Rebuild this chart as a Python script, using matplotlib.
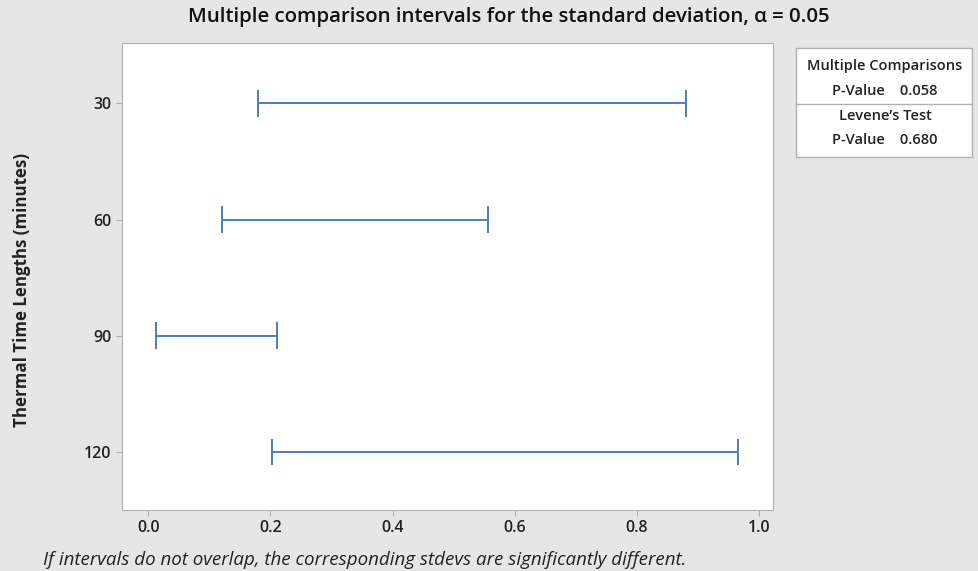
import matplotlib
matplotlib.use("Agg")
import matplotlib.pyplot as plt
from matplotlib.patches import Rectangle

groups = ["30", "60", "90", "120"]
lower = [0.180, 0.120, 0.013, 0.202]
upper = [0.880, 0.557, 0.211, 0.965]
xticks = [0.0, 0.2, 0.4, 0.6, 0.8, 1.0]
mc_pvalue = "0.058"
levene_pvalue = "0.680"

plt.rcParams['font.family'] = ['Open Sans', 'DejaVu Sans']
W, H = 979, 571
fig = plt.figure(figsize=(W/100, H/100), dpi=100, facecolor='#e6e6e6')
ax = fig.add_axes([122/W, 1-510/H, (773-122)/W, (510-43)/H])
ax.set_facecolor('white')

color = '#4a7ebb'
ypos = list(range(len(groups)))
for y, lo, hi in zip(ypos, lower, upper):
    ax.hlines(y, lo, hi, color=color, lw=1.4)
    ax.vlines([lo, hi], y-0.115, y+0.115, color=color, lw=1.4)

ax.set_xlim(-0.043, 1.023)
ax.set_ylim(3.5, -0.52)
ax.set_yticks(ypos)
ax.set_yticklabels(groups, fontsize=11.5, fontweight='semibold')
ax.set_xticks(xticks)
ax.set_xticklabels([f"{v:.1f}" for v in xticks], fontsize=11.5, fontweight='semibold')
for s in ax.spines.values():
    s.set_color('#b0b0b0')
ax.tick_params(colors='#b0b0b0', labelcolor='#222222', length=4, width=0.8)
fig.text(22/W, 1-290/H, "Thermal Time Lengths (minutes)", rotation=90, ha='center', va='center',
         fontsize=12.2, fontweight='bold', color='#222222')

fig.text(509/W, 1-17/H, "Multiple comparison intervals for the standard deviation, \u03b1 = 0.05",
         ha='center', va='center', fontsize=14.7, fontweight='semibold', color='#111111')

fig.text(43/W, 1-560/H, "If intervals do not overlap, the corresponding stdevs are significantly different.",
         ha='left', va='center', fontsize=13.5, style='italic', color='#222222')

# legend table
x0, y0, x1, y1 = 796, 48, 972, 157
fig.patches.append(Rectangle((x0/W, 1-y1/H), (x1-x0)/W, (y1-y0)/H, transform=fig.transFigure,
                             facecolor='white', edgecolor='#b0b0b0', lw=1))
fig.add_artist(plt.Line2D([x0/W, x1/W], [1-104/H, 1-104/H], transform=fig.transFigure,
                          color='#b0b0b0', lw=1))
cx = (x0+x1)/2/W + 1/W
kw = dict(ha='center', va='center', fontsize=10.5, fontweight='semibold', color='#222222')
fig.text(cx, 1-66/H, "Multiple Comparisons", **kw)
fig.text(cx, 1-91/H, f"P-Value    {mc_pvalue}", **kw)
fig.text(cx, 1-116/H, "Levene\u2019s Test", **kw)
fig.text(cx, 1-140/H, f"P-Value    {levene_pvalue}", **kw)

fig.savefig("out.png", dpi=100, facecolor=fig.get_facecolor())
